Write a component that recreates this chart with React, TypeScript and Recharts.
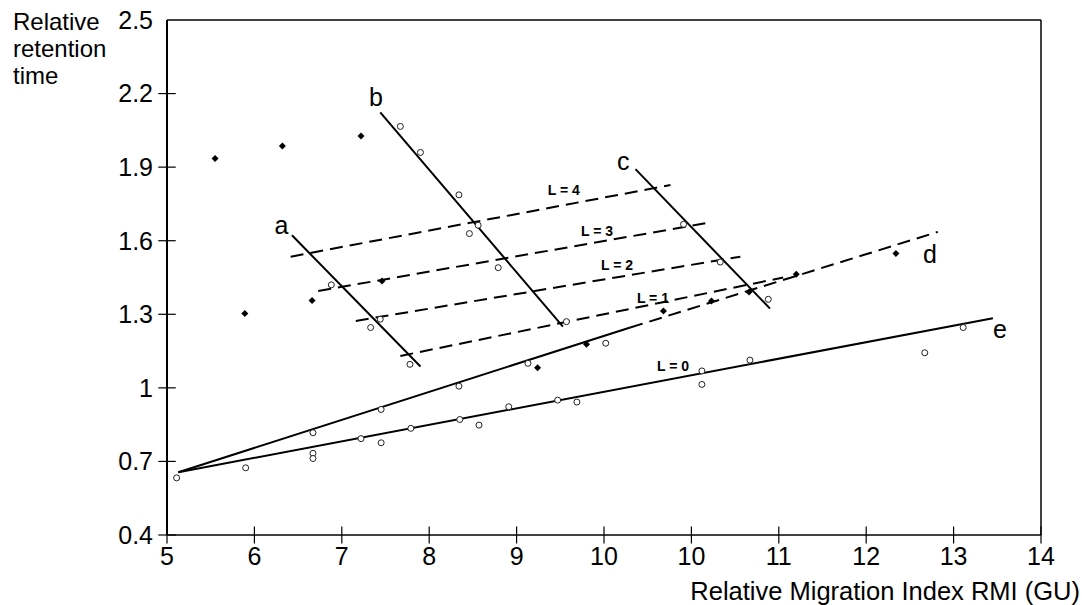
import React from "react";
import {
  ComposedChart,
  Line,
  Scatter,
  XAxis,
  YAxis,
  ReferenceLine,
} from "recharts";

// x positions are read on the printed axis scale (ticks are evenly spaced; the
// printed labels repeat "10")
const xTicks = [5, 6, 7, 8, 9, 10, 11, 12, 13, 14, 15];
const xTickLabels = ["5", "6", "7", "8", "9", "10", "10", "11", "12", "13", "14"];
const yTicks = [0.4, 0.7, 1, 1.3, 1.6, 1.9, 2.2, 2.5];

const openPoints = [
  { x: 5.11, y: 0.633 }, { x: 5.9, y: 0.674 }, { x: 6.67, y: 0.817 },
  { x: 6.67, y: 0.733 }, { x: 6.67, y: 0.712 }, { x: 7.22, y: 0.793 },
  { x: 7.45, y: 0.776 }, { x: 7.45, y: 0.912 }, { x: 7.79, y: 0.835 },
  { x: 8.34, y: 1.007 }, { x: 8.35, y: 0.871 }, { x: 8.57, y: 0.848 },
  { x: 8.91, y: 0.923 }, { x: 9.47, y: 0.95 }, { x: 9.69, y: 0.942 },
  { x: 9.13, y: 1.1 }, { x: 10.02, y: 1.182 }, { x: 11.12, y: 1.069 },
  { x: 11.12, y: 1.014 }, { x: 11.67, y: 1.113 }, { x: 13.67, y: 1.143 },
  { x: 14.11, y: 1.246 },
  { x: 6.88, y: 1.42 }, { x: 7.44, y: 1.28 }, { x: 7.33, y: 1.246 },
  { x: 7.78, y: 1.096 },
  { x: 7.67, y: 2.066 }, { x: 7.9, y: 1.96 }, { x: 8.34, y: 1.787 },
  { x: 8.56, y: 1.663 }, { x: 8.46, y: 1.629 }, { x: 8.79, y: 1.49 },
  { x: 9.57, y: 1.27 },
  { x: 10.91, y: 1.667 }, { x: 11.33, y: 1.513 }, { x: 11.88, y: 1.361 },
];

const filledPoints = [
  { x: 5.55, y: 1.935 }, { x: 6.32, y: 1.986 }, { x: 7.22, y: 2.027 },
  { x: 5.89, y: 1.303 }, { x: 6.66, y: 1.356 }, { x: 7.46, y: 1.436 },
  { x: 9.24, y: 1.082 }, { x: 9.8, y: 1.178 }, { x: 10.68, y: 1.313 },
  { x: 11.23, y: 1.354 }, { x: 11.66, y: 1.391 }, { x: 12.2, y: 1.463 },
  { x: 13.34, y: 1.548 },
];

const lineE = [{ x: 5.13, y: 0.656 }, { x: 14.45, y: 1.284 }];
const lineDSolid = [{ x: 5.13, y: 0.656 }, { x: 10.3, y: 1.246 }];
const lineDDashed = [{ x: 10.3, y: 1.246 }, { x: 13.82, y: 1.636 }];
const lineA = [{ x: 6.43, y: 1.622 }, { x: 7.9, y: 1.087 }];
const lineB = [{ x: 7.44, y: 2.123 }, { x: 9.53, y: 1.25 }];
const lineC = [{ x: 10.36, y: 1.892 }, { x: 11.9, y: 1.323 }];
const lineL4 = [{ x: 6.415, y: 1.535 }, { x: 10.76, y: 1.827 }];
const lineL3 = [{ x: 6.73, y: 1.395 }, { x: 11.16, y: 1.671 }];
const lineL2 = [{ x: 7.16, y: 1.273 }, { x: 11.56, y: 1.535 }];
const lineL1 = [{ x: 7.67, y: 1.13 }, { x: 12.05, y: 1.45 }];

const letterLabels = [
  { x: 6.31, y: 1.663, t: "a" },
  { x: 7.39, y: 2.186, t: "b" },
  { x: 10.22, y: 1.926, t: "c" },
  { x: 13.73, y: 1.545, t: "d" },
  { x: 14.53, y: 1.239, t: "e" },
];
const levelLabels = [
  { x: 9.54, y: 1.807, t: "L = 4" },
  { x: 9.92, y: 1.64, t: "L = 3" },
  { x: 10.15, y: 1.501, t: "L = 2" },
  { x: 10.56, y: 1.368, t: "L = 1" },
  { x: 10.79, y: 1.089, t: "L = 0" },
];

const FONT = "'Liberation Sans', Arial, Helvetica, sans-serif";

const OpenCircle = (p: any) =>
  p.cx == null ? null : (
    <circle cx={p.cx} cy={p.cy} r={3} fill="#fff" stroke="#222" strokeWidth={1} />
  );
const FilledDot = (p: any) =>
  p.cx == null ? null : (
    <polygon
      points={`${p.cx},${p.cy - 3.5} ${p.cx + 3.5},${p.cy} ${p.cx},${p.cy + 3.5} ${p.cx - 3.5},${p.cy}`}
      fill="#000"
    />
  );
const LetterText = (p: any) =>
  p.cx == null ? null : (
    <text x={p.cx} y={p.cy} textAnchor="middle" dominantBaseline="central" fontSize={25} fill="#000" fontFamily={FONT}>
      {p.payload.t}
    </text>
  );
const LevelText = (p: any) =>
  p.cx == null ? null : (
    <text x={p.cx} y={p.cy} textAnchor="middle" dominantBaseline="central" fontSize={14} fontWeight="bold" fill="#000" fontFamily={FONT}>
      {p.payload.t}
    </text>
  );

const solid = { stroke: "#000", strokeWidth: 2 };
const dashed = { stroke: "#000", strokeWidth: 2, strokeDasharray: "13 7" };

export default function App() {
  return (
    <div style={{ position: "absolute", left: 0, top: 0, width: 1082, height: 605, background: "#fff", fontFamily: FONT }}>
      <ComposedChart width={1082} height={605} margin={{ top: 20, right: 41, bottom: 0, left: 0 }}>
        <XAxis
          type="number"
          dataKey="x"
          domain={[5, 15]}
          ticks={xTicks}
          tickFormatter={(v: number) => xTickLabels[Math.round(v - 5)]}
          tickLine={false}
          tickSize={9}
          tickMargin={3}
          height={70}
          axisLine={{ stroke: "#000", strokeWidth: 1.5 }}
          tick={{ fill: "#000", fontSize: 25, fontFamily: FONT }}
          allowDataOverflow
          label={{
            content: (props: any) => {
              const vb = props.viewBox;
              return (
                <text x={vb.x + vb.width + 39} y={vb.y + 65} textAnchor="end" fontSize={25.5} fill="#000" fontFamily={FONT}>
                  Relative Migration Index RMI (GU)
                </text>
              );
            },
          }}
        />
        <YAxis
          type="number"
          dataKey="y"
          domain={[0.4, 2.5]}
          ticks={yTicks}
          tickLine={false}
          tickSize={9}
          tickMargin={5}
          width={167}
          axisLine={{ stroke: "#000", strokeWidth: 2 }}
          tick={{ fill: "#000", fontSize: 25, fontFamily: FONT }}
          allowDataOverflow
          label={{
            content: (props: any) => {
              const vb = props.viewBox;
              return (
                <text x={vb.x + 13} y={vb.y + 10} fontSize={24} fill="#000" fontFamily={FONT}>
                  <tspan x={vb.x + 13} dy="0">Relative</tspan>
                  <tspan x={vb.x + 13} dy="27">retention</tspan>
                  <tspan x={vb.x + 13} dy="27">time</tspan>
                </text>
              );
            },
          }}
        />
        <ReferenceLine y={2.5} stroke="#000" strokeWidth={1.5} />
        <ReferenceLine x={15} stroke="#000" strokeWidth={1.5} />
        {yTicks.slice(0, -1).map((t) => (
          <ReferenceLine
            key={"yt" + t}
            segment={[{ x: 4.9, y: t }, { x: 5.1, y: t }]}
            stroke="#000"
            strokeWidth={1.2}
            ifOverflow="visible"
          />
        ))}
        {xTicks.map((t) => (
          <ReferenceLine
            key={"xt" + t}
            segment={[{ x: t, y: 0.365 }, { x: t, y: 0.435 }]}
            stroke="#000"
            strokeWidth={1.2}
            ifOverflow="visible"
          />
        ))}
        <Line data={lineE} dataKey="y" {...solid} dot={false} isAnimationActive={false} />
        <Line data={lineDSolid} dataKey="y" {...solid} dot={false} isAnimationActive={false} />
        <Line data={lineDDashed} dataKey="y" {...dashed} dot={false} isAnimationActive={false} />
        <Line data={lineA} dataKey="y" {...solid} dot={false} isAnimationActive={false} />
        <Line data={lineB} dataKey="y" {...solid} dot={false} isAnimationActive={false} />
        <Line data={lineC} dataKey="y" {...solid} dot={false} isAnimationActive={false} />
        <Line data={lineL4} dataKey="y" {...dashed} dot={false} isAnimationActive={false} />
        <Line data={lineL3} dataKey="y" {...dashed} dot={false} isAnimationActive={false} />
        <Line data={lineL2} dataKey="y" {...dashed} dot={false} isAnimationActive={false} />
        <Line data={lineL1} dataKey="y" {...dashed} dot={false} isAnimationActive={false} />
        <Scatter data={openPoints} dataKey="y" shape={OpenCircle} isAnimationActive={false} />
        <Scatter data={filledPoints} dataKey="y" shape={FilledDot} isAnimationActive={false} />
        <Scatter data={letterLabels} dataKey="y" shape={LetterText} isAnimationActive={false} />
        <Scatter data={levelLabels} dataKey="y" shape={LevelText} isAnimationActive={false} />
      </ComposedChart>
    </div>
  );
}
